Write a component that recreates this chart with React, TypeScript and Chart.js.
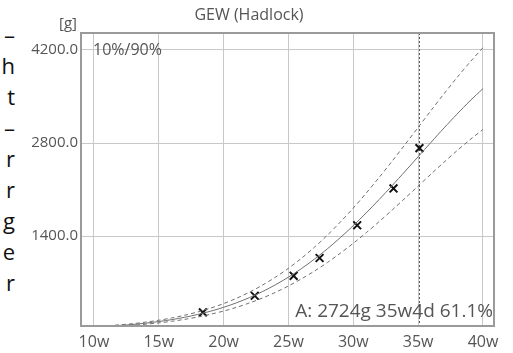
import React, { useEffect, useRef } from "react";
import { Chart, registerables } from "chart.js";

Chart.register(...registerables);

const weeks = [10, 11, 12, 13, 14, 15, 16, 17, 18, 19, 20, 21, 22, 23, 24, 25, 26, 27, 28, 29, 30, 31, 32, 33, 34, 35, 36, 37, 38, 39, 40];
const p10 = [29, 37, 48, 60, 77, 97, 121, 150, 185, 227, 275, 331, 397, 471, 556, 652, 758, 876, 1004, 1145, 1294, 1453, 1621, 1794, 1973, 2154, 2335, 2513, 2686, 2851, 3004];
const p50 = [35, 45, 58, 73, 93, 117, 146, 181, 223, 273, 331, 399, 478, 568, 670, 785, 913, 1055, 1210, 1379, 1559, 1751, 1953, 2162, 2377, 2595, 2813, 3028, 3236, 3435, 3619];
const p90 = [41, 53, 68, 85, 109, 137, 171, 212, 261, 319, 387, 467, 559, 665, 784, 918, 1068, 1234, 1416, 1613, 1824, 2049, 2285, 2530, 2781, 3036, 3291, 3543, 3786, 4018, 4234];

const measWeeks = [18.4, 22.4, 25.4, 27.4, 30.3, 33.1, 35.1];
const measWeights = [255, 505, 805, 1072, 1565, 2118, 2724];

const xTicks = [10, 15, 20, 25, 30, 35, 40];
const yTicks = [1400, 2800, 4200];
const markerWeek = 35.1;

const sideLetters = ["–", "h", "t", "–", "r", "r", "g", "e", "r"];

const TEXT_FONT = "'Open Sans', 'DejaVu Sans', sans-serif";

export default function App() {
  const ref = useRef<HTMLCanvasElement | null>(null);

  useEffect(() => {
    document.body.style.margin = "0";
    const canvas = ref.current;
    if (!canvas) return;

    const overlay = {
      id: "overlay",
      beforeDatasetsDraw(chart: any) {
        const { ctx, chartArea: a, scales } = chart;
        const x = scales.x;
        ctx.save();
        const mx = Math.round(x.getPixelForValue(markerWeek)) + 0.5;
        ctx.strokeStyle = "#555";
        ctx.lineWidth = 1;
        ctx.setLineDash([2, 2]);
        ctx.beginPath();
        ctx.moveTo(mx, a.top);
        ctx.lineTo(mx, a.bottom);
        ctx.stroke();
        ctx.restore();
      },
      afterDraw(chart: any) {
        const { ctx, chartArea: a, scales } = chart;
        const y = scales.y;
        ctx.save();
        ctx.strokeStyle = "#9a9a9a";
        ctx.lineWidth = 2;
        ctx.setLineDash([]);
        ctx.strokeRect(a.left, a.top, a.right - a.left, a.bottom - a.top);

        ctx.fillStyle = "#555";
        ctx.font = `16px ${TEXT_FONT}`;
        ctx.textAlign = "center";
        ctx.textBaseline = "middle";
        ctx.fillText("GEW (Hadlock)", 249, 15);

        ctx.font = `15px ${TEXT_FONT}`;
        ctx.textAlign = "right";
        ctx.fillText("[g]", a.left - 4, 24);

        ctx.font = `16px ${TEXT_FONT}`;
        ctx.textAlign = "left";
        ctx.fillText("10%/90%", a.left + 12, y.getPixelForValue(4200));

        ctx.font = `19px ${TEXT_FONT}`;
        ctx.textAlign = "right";
        ctx.textBaseline = "alphabetic";
        ctx.fillText("A: 2724g 35w4d 61.1%", a.right - 1, a.bottom - 9);
        ctx.restore();
      },
    };

    const lineStyle = {
      borderColor: "#707070",
      borderWidth: 1,
      pointRadius: 0,
      tension: 0.3,
      fill: false,
    };

    const chart = new Chart(canvas, {
      type: "line",
      data: {
        datasets: [
          { ...lineStyle, label: "10%", data: weeks.map((w, i) => ({ x: w, y: p10[i] })), borderDash: [4, 3] },
          { ...lineStyle, label: "50%", data: weeks.map((w, i) => ({ x: w, y: p50[i] })) },
          { ...lineStyle, label: "90%", data: weeks.map((w, i) => ({ x: w, y: p90[i] })), borderDash: [4, 3] },
          {
            label: "A",
            data: measWeeks.map((w, i) => ({ x: w, y: measWeights[i] })),
            showLine: false,
            pointStyle: "crossRot",
            pointRadius: 5.5,
            pointBorderWidth: 2,
            pointBorderColor: "#111",
            pointBackgroundColor: "#111",
          } as any,
        ],
      },
      options: {
        animation: false,
        responsive: false,
        maintainAspectRatio: false,
        layout: { padding: { top: 33, right: 19, left: 0, bottom: 0 } },
        plugins: { legend: { display: false }, title: { display: false }, tooltip: { enabled: false } },
        scales: {
          x: {
            type: "linear",
            min: 9,
            max: 40.85,
            afterBuildTicks: (s: any) => {
              s.ticks = xTicks.map((v) => ({ value: v }));
            },
            afterFit: (s: any) => {
              s.height = 27;
            },
            grid: { color: "#c8c8c8", lineWidth: 1, drawTicks: false },
            border: { display: false },
            ticks: {
              color: "#555",
              padding: 7,
              maxRotation: 0,
              font: { family: TEXT_FONT, size: 16 },
              callback: (v: any) => `${v}w`,
            },
          },
          y: {
            type: "linear",
            min: 50,
            max: 4455,
            afterBuildTicks: (s: any) => {
              s.ticks = yTicks.map((v) => ({ value: v }));
            },
            afterFit: (s: any) => {
              s.width = 81;
            },
            grid: { color: "#c8c8c8", lineWidth: 1, drawTicks: false },
            border: { display: false },
            ticks: {
              color: "#555",
              padding: 3,
              font: { family: TEXT_FONT, size: 15 },
              callback: (v: any) => Number(v).toFixed(1),
            },
          },
        },
      },
      plugins: [overlay],
    });
    return () => chart.destroy();
  }, []);

  return (
    <div style={{ position: "fixed", left: 0, top: 0, width: 513, height: 353, background: "#fff", overflow: "hidden" }}>
      <div
        style={{
          position: "absolute",
          left: -20,
          top: 19,
          width: 35,
          textAlign: "right",
          fontFamily: TEXT_FONT,
          fontSize: 22,
          lineHeight: "31px",
          color: "#111",
        }}
      >
        {sideLetters.map((ch, i) => (
          <div key={i}>{ch}</div>
        ))}
      </div>
      <canvas ref={ref} width={513} height={353} style={{ position: "absolute", left: 0, top: 0 }} />
    </div>
  );
}
